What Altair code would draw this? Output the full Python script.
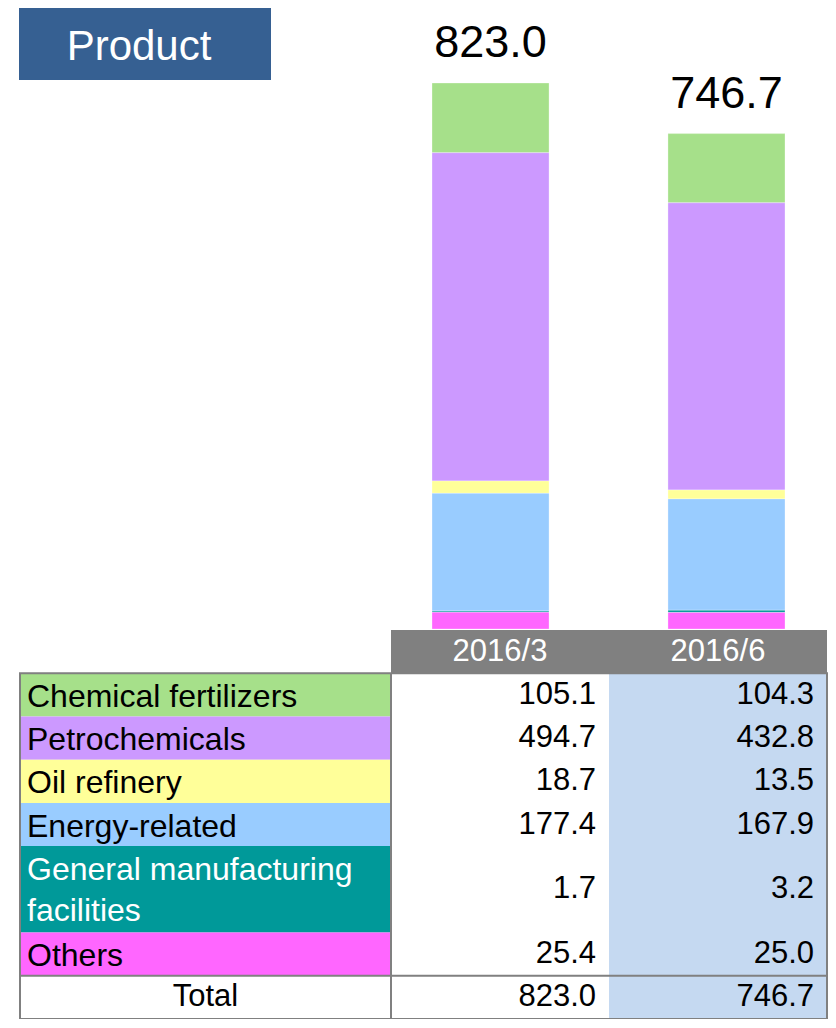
import textwrap
import altair as alt
import pandas as pd

# ---------------- data ----------------
periods = ["2016/3", "2016/6"]
categories = ["Chemical fertilizers", "Petrochemicals", "Oil refinery",
              "Energy-related", "General manufacturing facilities", "Others"]
values_2016_3 = [105.1, 494.7, 18.7, 177.4, 1.7, 25.4]
values_2016_6 = [104.3, 432.8, 13.5, 167.9, 3.2, 25.0]
totals = [823.0, 746.7]
colors = ["#A6E08A", "#CC99FF", "#FFFF99", "#99CCFF", "#009999", "#FF66FF"]
title_text = "Product"
total_label = "Total"

# ---------------- layout constants ----------------
FONT = "Liberation Sans"
GRID = "#808080"
LABEL_X0, LABEL_X1, TABLE_X1 = 12, 383, 819
SLOT_TOP, SLOT_BOTTOM = 622, 1011


def text_color(hex_color):
    r, g, b = (int(hex_color[i:i + 2], 16) for i in (1, 3, 5))
    lum = 0.299 * r + 0.587 * g + 0.114 * b
    return "white" if lum < 140 else "black"


# bars (long form)
series = {periods[0]: values_2016_3, periods[1]: values_2016_6}
bar_rows = []
for p in periods:
    for i, c in enumerate(categories):
        bar_rows.append({"period": p, "category": c, "value": series[p][i],
                         "stack_order": len(categories) - i})
bars_df = pd.DataFrame(bar_rows)
totals_df = pd.DataFrame({"period": periods, "total": totals})

# table rows: one slot per text line, header takes slot 0
row_recs = []
slot = 1
for i, c in enumerate(categories):
    disp = textwrap.fill(c, 22)
    n = disp.count("\n") + 1
    row_recs.append({"category": c, "display": disp, "start": slot, "end": slot + n,
                     "mid": slot + n / 2, "first_mid": slot + 0.5,
                     "tcolor": text_color(colors[i])})
    slot += n
rows_df = pd.DataFrame(row_recs)
total_row = {"start": slot, "end": slot + 1, "mid": slot + 0.5}
n_slots = slot + 1
slot_px = (SLOT_BOTTOM - SLOT_TOP) / n_slots

val_recs = []
for p in periods:
    for i, c in enumerate(categories):
        val_recs.append({"period": p, "value": series[p][i], "mid": row_recs[i]["mid"]})
    val_recs.append({"period": p, "value": totals[periods.index(p)], "mid": total_row["mid"]})
vals_df = pd.DataFrame(val_recs)

period_df = pd.DataFrame({"period": periods, "hs": 0, "he": 1, "hm": 0.5,
                          "bs": 1, "be": n_slots})
frame_df = pd.DataFrame({"start": [1, total_row["start"]],
                         "end": [total_row["end"], total_row["end"]]})
total_df = pd.DataFrame([{"label": total_label, **total_row}])
title_df = pd.DataFrame({"t": [title_text]})

# ---------------- scales ----------------
bar_x = alt.Scale(type="band", domain=periods, range=[424, 777], paddingInner=0.504, paddingOuter=0)
bar_y = alt.Scale(domain=[0, max(totals)], range=[621, 75], nice=False, zero=True)
col_x = alt.Scale(type="band", domain=periods, range=[LABEL_X1, TABLE_X1], paddingInner=0, paddingOuter=0)
slot_y = alt.Scale(domain=[0, n_slots], range=[SLOT_TOP, SLOT_BOTTOM], nice=False, zero=False)
cat_color = alt.Scale(domain=categories, range=colors)

# ---------------- layers ----------------
title_box = alt.Chart(title_df).mark_rect(color="#366092").encode(
    x=alt.value(11), x2=alt.value(263), y=alt.value(0), y2=alt.value(72))
title_txt = alt.Chart(title_df).mark_text(
    font=FONT, fontSize=42, color="white", align="center", baseline="alphabetic"
).encode(x=alt.value(131), y=alt.value(52), text="t:N")

bars = alt.Chart(bars_df).mark_bar(stroke="white", strokeWidth=0.6, strokeOpacity=0.5).encode(
    x=alt.X("period:N", scale=bar_x, axis=None),
    y=alt.Y("value:Q", scale=bar_y, axis=None, stack="zero"),
    color=alt.Color("category:N", scale=cat_color, legend=None),
    order=alt.Order("stack_order:Q", sort="ascending"),
)
bar_totals = alt.Chart(totals_df).mark_text(
    font=FONT, fontSize=45, dy=-26, baseline="alphabetic", align="center", color="black"
).encode(
    x=alt.X("period:N", scale=bar_x, axis=None),
    y=alt.Y("total:Q", scale=bar_y, axis=None),
    text=alt.Text("total:Q", format=".1f"),
)

col_bg = alt.Chart(period_df).mark_rect().encode(
    x=alt.X("period:N", scale=col_x, axis=None),
    y=alt.Y("bs:Q", scale=slot_y, axis=None), y2="be:Q",
    color=alt.Color("period:N", scale=alt.Scale(domain=periods, range=["#FFFFFF", "#C5D9F1"]), legend=None),
)
header = alt.Chart(period_df).mark_rect(color=GRID).encode(
    x=alt.X("period:N", scale=col_x, axis=None),
    y=alt.Y("hs:Q", scale=slot_y, axis=None), y2="he:Q",
)
header_txt = alt.Chart(period_df).mark_text(
    font=FONT, fontSize=31, color="white", baseline="middle", align="center"
).encode(
    x=alt.X("period:N", scale=col_x, axis=None),
    y=alt.Y("hm:Q", scale=slot_y, axis=None),
    text="period:N",
)

label_cells = alt.Chart(rows_df).mark_rect().encode(
    x=alt.value(LABEL_X0), x2=alt.value(LABEL_X1),
    y=alt.Y("start:Q", scale=slot_y, axis=None), y2="end:Q",
    color=alt.Color("category:N", scale=cat_color, legend=None),
)
label_txt = alt.Chart(rows_df).mark_text(
    font=FONT, fontSize=32, align="left", baseline="middle", lineBreak="\n",
    lineHeight=slot_px - 2, dy=2,
).encode(
    x=alt.value(LABEL_X0 + 7),
    y=alt.Y("first_mid:Q", scale=slot_y, axis=None),
    text="display:N",
    color=alt.Color("tcolor:N", scale=None),
)
total_txt = alt.Chart(total_df).mark_text(
    font=FONT, fontSize=31, align="center", baseline="middle", color="black"
).encode(
    x=alt.value((LABEL_X0 + LABEL_X1) / 2),
    y=alt.Y("mid:Q", scale=slot_y, axis=None),
    text="label:N",
)
value_txt = alt.Chart(vals_df).mark_text(
    font=FONT, fontSize=31, align="right", baseline="middle", dx=-13, color="black"
).encode(
    x=alt.X("period:N", scale=col_x, axis=None, bandPosition=1),
    y=alt.Y("mid:Q", scale=slot_y, axis=None),
    text=alt.Text("value:Q", format=".1f"),
)

frame = alt.Chart(frame_df).mark_rect(fillOpacity=0, stroke=GRID, strokeWidth=2).encode(
    x=alt.value(LABEL_X0), x2=alt.value(TABLE_X1),
    y=alt.Y("start:Q", scale=slot_y, axis=None), y2="end:Q",
)
vline = alt.Chart(frame_df.head(1)).mark_rule(color=GRID, strokeWidth=2).encode(
    x=alt.value(LABEL_X1),
    y=alt.Y("start:Q", scale=slot_y, axis=None), y2="end:Q",
)

chart = alt.layer(
    title_box, title_txt, bars, bar_totals,
    col_bg, header, header_txt, label_cells, label_txt, total_txt, value_txt,
    frame, vline,
).resolve_scale(
    x="independent", y="independent", color="independent"
).properties(
    width=820, height=1011, autosize="none", padding=0,
).configure(font=FONT).configure_view(strokeWidth=0, stroke="transparent")

chart.save("out.html", embed_options={"renderer": "svg", "actions": False})
